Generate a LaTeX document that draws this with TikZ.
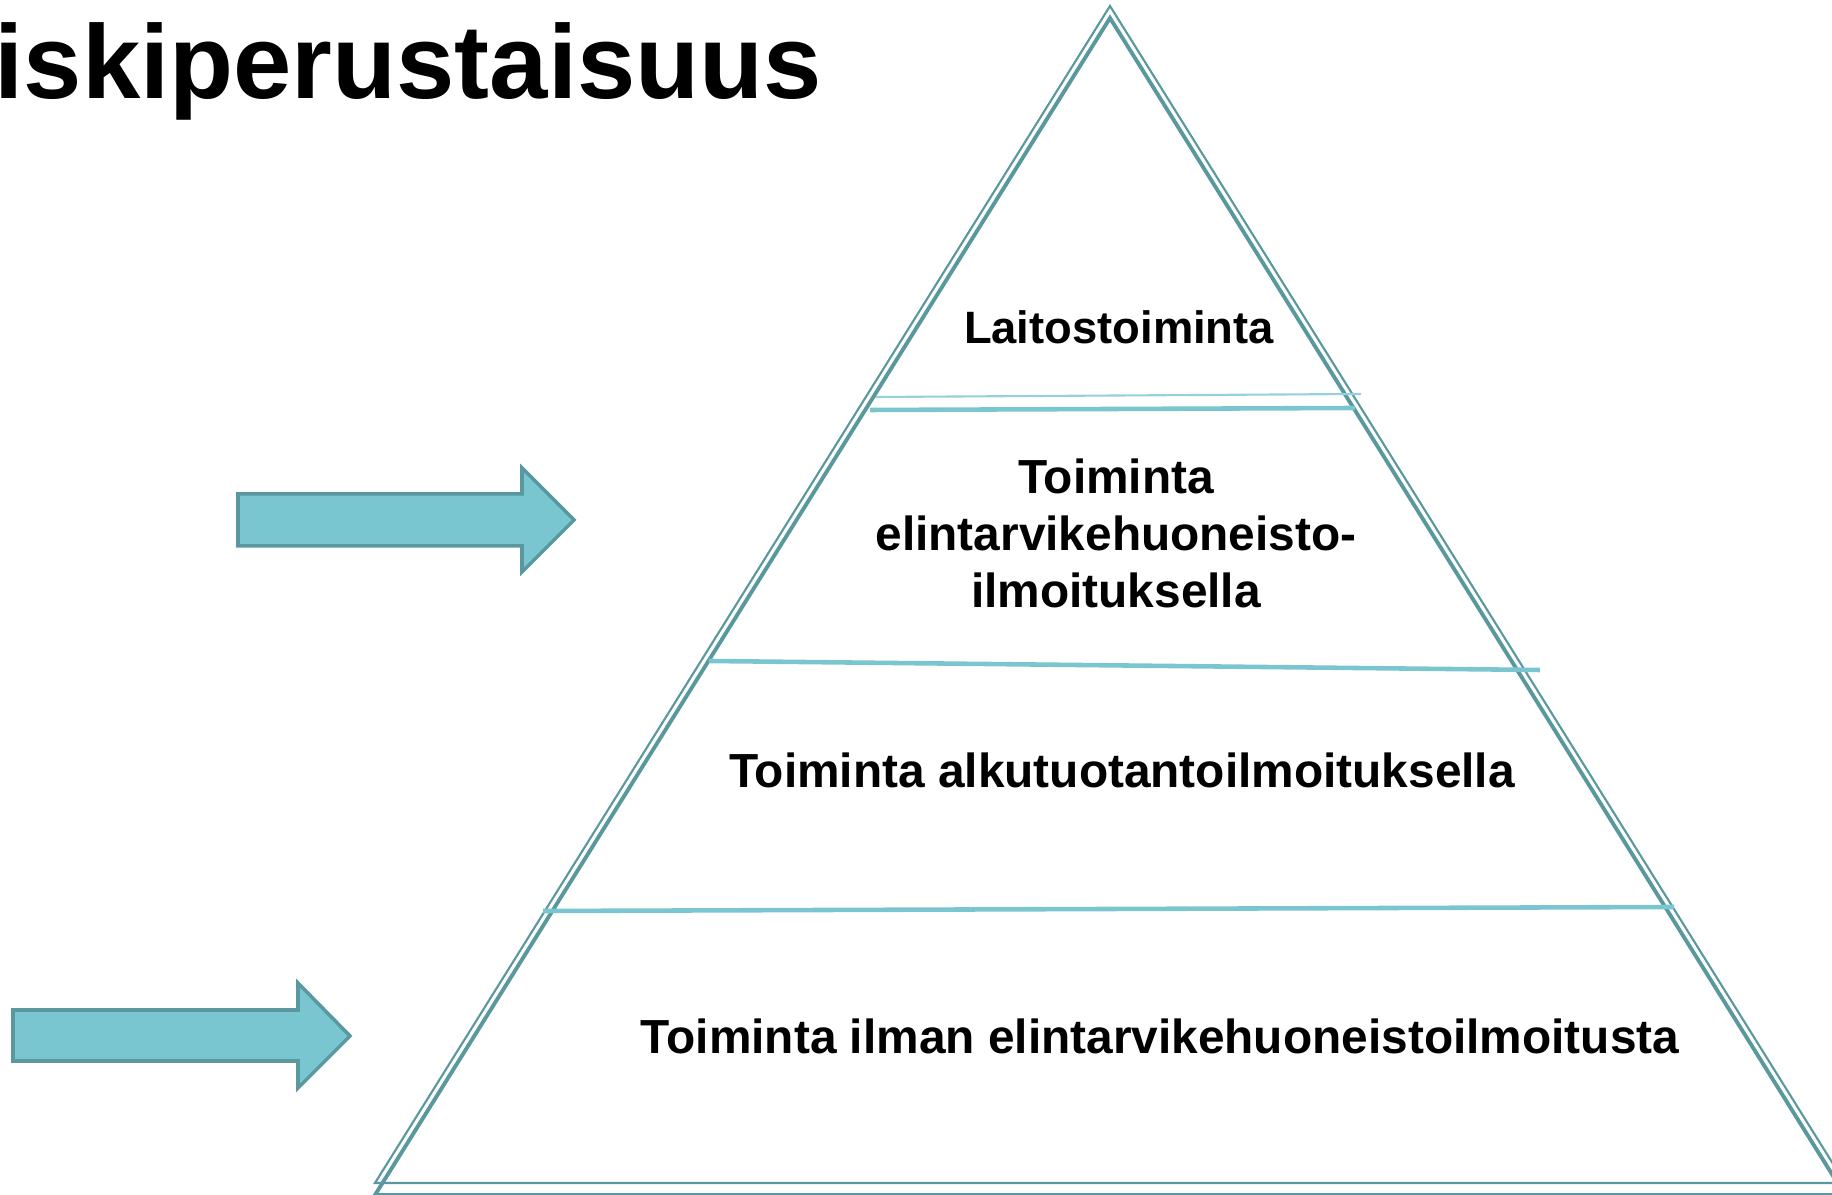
\documentclass[tikz,border=0pt]{standalone}
\usepackage{fontspec}
\setmainfont{Liberation Sans}
\definecolor{sarcelle}{RGB}{88,152,158}
\definecolor{turquoise}{RGB}{122,198,208}
\tikzset{
  niveau/.style={font=\bfseries\fontsize{13.6}{16.3}\selectfont, align=center, anchor=base},
  fleche/.style={fill=turquoise, draw=sarcelle, line width=1pt, line join=miter},
  separation/.style={draw=turquoise, line width=1.3pt},
}
\begin{document}
\begin{tikzpicture}[x=0.01cm,y=-0.01cm]
  \useasboundingbox (0,0) rectangle (1832,1195);
  \node[font=\bfseries\fontsize{29.8}{30}\selectfont, anchor=base west, inner sep=0pt] (titre) at (-6,99) {iskiperustaisuus};
  % pyramide double
  \def\pyramide{(1110,6) -- (375,1183) -- (1845,1183) -- cycle}
  \draw[sarcelle, line width=0.6pt] \pyramide;
  \draw[sarcelle, line width=1.1pt, shift={(0,12)}] \pyramide;%meme triangle, decale vers le bas
  % separations
  \draw[separation, line width=0.6pt, turquoise!80] (876,397) -- (1361,394);
  \draw[separation] (870,410) -- (1355,408);
  \draw[separation] (709,661) -- (1540,670);
  \draw[separation] (543,911) -- (1674,907);
  % niveaux
  \node[niveau, font=\bfseries\fontsize{12.9}{15}\selectfont] (laitos) at (1119,344) {Laitostoiminta};
  \node[niveau, anchor=north] (huoneisto) at (1116,446) {Toiminta\\elintarvikehuoneisto-\\ilmoituksella};
  \node[niveau] (alkutuotanto) at (1122,788) {Toiminta alkutuotantoilmoituksella};
  \node[niveau] (ilman) at (1160,1054) {Toiminta ilman elintarvikehuoneistoilmoitusta};
  % fleches
  \draw[fleche] (238,494) -- (522,494) -- (522,468) -- (574,520) -- (522,572) -- (522,546) -- (238,546) -- cycle;
  \draw[fleche] (13,1010) -- (298,1010) -- (298,983) -- (350,1036) -- (298,1088) -- (298,1061) -- (13,1061) -- cycle;
\end{tikzpicture}
\end{document}
